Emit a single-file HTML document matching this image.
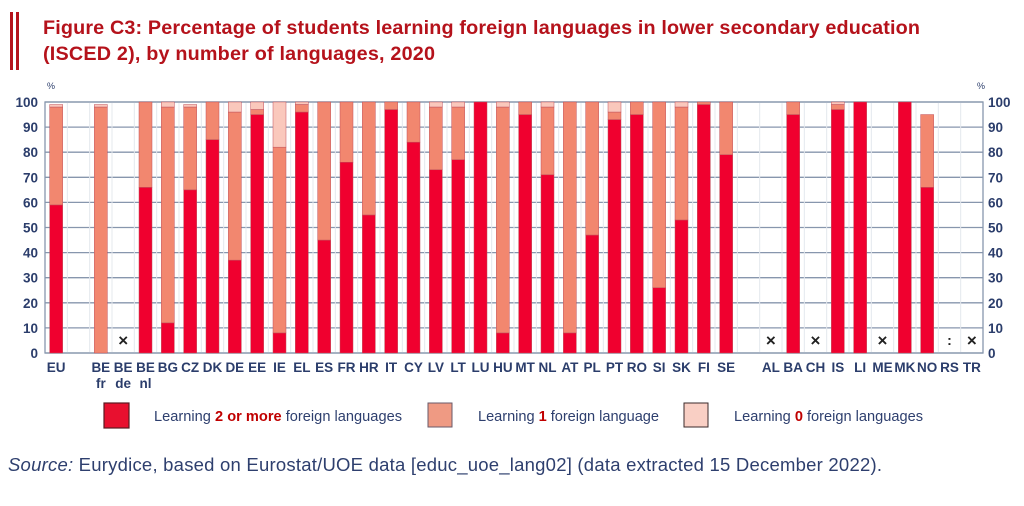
<!DOCTYPE html>
<html><head><meta charset="utf-8"><style>
body{margin:0;background:#fff;width:1024px;height:506px;overflow:hidden}
svg{display:block}
</style></head><body>
<svg width="1024" height="506" xmlns="http://www.w3.org/2000/svg" font-family="Liberation Sans, sans-serif">
<rect x="10" y="12" width="3" height="58" fill="#b5121b"/>
<rect x="16" y="12" width="3" height="58" fill="#b5121b"/>
<text x="43" y="34" font-size="19.8" font-weight="bold" fill="#b5121b" textLength="877">Figure C3: Percentage of students learning foreign languages in lower secondary education</text>
<text x="43" y="60" font-size="19.8" font-weight="bold" fill="#b5121b" textLength="392">(ISCED 2), by number of languages, 2020</text>
<g id="chart"></g>
<text x="47" y="89" font-size="9" fill="#2b3d6b">%</text>
<text x="977" y="89" font-size="9" fill="#2b3d6b">%</text>
<rect x="104" y="403" width="25" height="25" fill="#e8102f" stroke="#5a1a22" stroke-width="1.2"/>
<text x="154" y="421" font-size="14.6" fill="#2e3f6e" textLength="248">Learning <tspan fill="#c00000" font-weight="bold">2 or more</tspan> foreign languages</text>
<rect x="428" y="403" width="24" height="24" fill="#ef9a83" stroke="#6a5a6a" stroke-width="1"/>
<text x="478" y="421" font-size="14.6" fill="#2e3f6e" textLength="181">Learning <tspan fill="#c00000" font-weight="bold">1</tspan> foreign language</text>
<rect x="684" y="403" width="24" height="24" fill="#f9cfc4" stroke="#3a2a2a" stroke-width="1"/>
<text x="734" y="421" font-size="14.6" fill="#2e3f6e" textLength="189">Learning <tspan fill="#c00000" font-weight="bold">0</tspan> foreign languages</text>
<text x="8" y="471" font-size="18.5" fill="#2e3f6e" textLength="874"><tspan font-style="italic">Source:</tspan> Eurydice, based on Eurostat/UOE data [educ_uoe_lang02] (data extracted 15 December 2022).</text>
</svg>
<script>
const L=45,R=983,T=102,B=353,n=42,w=(R-L)/n,sc=(B-T)/100;
const d=[["EU",59,39,1],null,["BE fr",0,98,1],["BE de","x"],["BE nl",66,34,0],["BG",12,86,2],["CZ",65,33,1],["DK",85,15,0],["DE",37,59,4],["EE",95,2,3],["IE",8,74,18],["EL",96,3,1],["ES",45,55,0],["FR",76,24,0],["HR",55,45,0],["IT",97,3,0],["CY",84,16,0],["LV",73,25,2],["LT",77,21,2],["LU",100,0,0],["HU",8,90,2],["MT",95,5,0],["NL",71,27,2],["AT",8,92,0],["PL",47,53,0],["PT",93,3,4],["RO",95,5,0],["SI",26,74,0],["SK",53,45,2],["FI",99,1,0],["SE",79,21,0],null,["AL","x"],["BA",95,5,0],["CH","x"],["IS",97,2,1],["LI",100,0,0],["ME","x"],["MK",100,0,0],["NO",66,29,0],["RS",":"],["TR","x"]];
let s='';
for(let i=0;i<=10;i++){const y=B-i*10*sc;s+=`<line x1="${L}" x2="${R}" y1="${y}" y2="${y}" stroke="#8796ad" stroke-width="1.3"/>`;
s+=`<text x="${L-7}" y="${y+5}" font-size="13.5" font-weight="bold" fill="#2b3d6b" text-anchor="end">${i*10}</text>`;
s+=`<text x="${R+5}" y="${y+5}" font-size="13.5" font-weight="bold" fill="#2b3d6b">${i*10}</text>`;}
for(let i=1;i<n;i++){const x=L+i*w;s+=`<line x1="${x}" x2="${x}" y1="${T}" y2="${B}" stroke="#e4e8ee" stroke-width="1"/>`;}
s+=`<rect x="${L}" y="${T}" width="${R-L}" height="${B-T}" fill="none" stroke="#8796ad" stroke-width="1.3"/>`;
const cols=["#f0002f","#f2876f","#fac8bc"];
d.forEach((e,i)=>{if(!e)return;const cx=L+(i+0.5)*w;
const lab=e[0].split(" ");
s+=`<text x="${cx}" y="372" font-size="13.5" font-weight="bold" fill="#2b3d6b" text-anchor="middle">${lab[0]}</text>`;
if(lab[1])s+=`<text x="${cx}" y="388" font-size="13.5" font-weight="bold" fill="#2b3d6b" text-anchor="middle">${lab[1]}</text>`;
if(e[1]==="x"){s+=`<text x="${cx}" y="346" font-size="17" font-weight="bold" fill="#222" text-anchor="middle">×</text>`;return;}
if(e[1]===":"){s+=`<text x="${cx}" y="345" font-size="14" font-weight="bold" fill="#222" text-anchor="middle">:</text>`;return;}
let acc=0;for(let k=0;k<3;k++){const v=e[k+1];if(!v)continue;const y=B-(acc+v)*sc;
s+=`<rect x="${cx-6.5}" y="${y}" width="13" height="${v*sc}" fill="${cols[k]}" stroke="#c0505a" stroke-width="0.5"/>`;acc+=v;}
});
document.getElementById('chart').innerHTML=s;
</script>
</body></html>
